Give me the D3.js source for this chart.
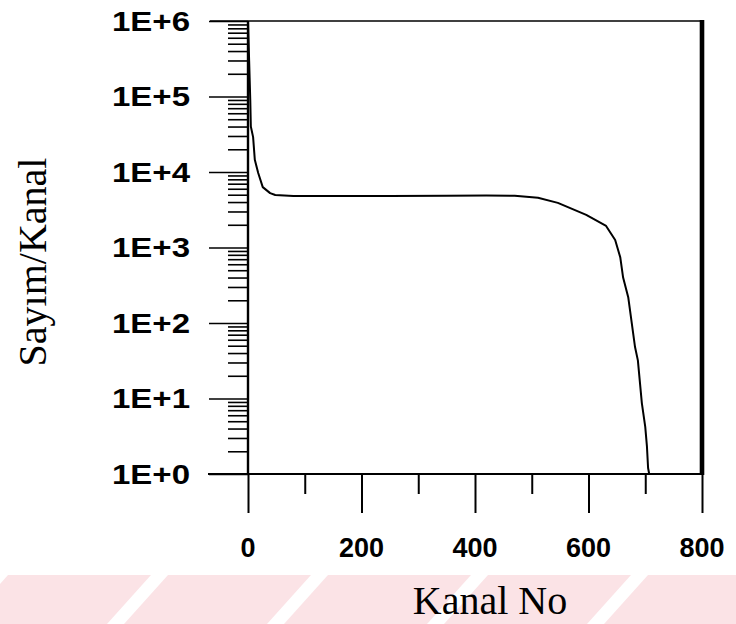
<!DOCTYPE html>
<html>
<head>
<meta charset="utf-8">
<script src="https://cdn.jsdelivr.net/npm/d3@7"></script>
<style>
  html, body { margin: 0; padding: 0; background: #ffffff; }
  svg { display: block; }
</style>
</head>
<body>
<svg id="chart" width="736" height="624"></svg>
<script>
// Channel number (Kanal No) and counts per channel (Sayım/Kanal)
const channels = [0, 2, 4, 5, 9, 12, 18, 26, 39, 48, 80, 150, 250, 350, 420, 470,
                  511, 546, 596, 631, 647, 656, 661, 670, 682, 687, 694, 700, 703, 705, 707];
const counts   = [1e6, 3e5, 9e4, 4e4, 2.9e4, 1.45e4, 9700, 6300, 5250, 4950, 4800, 4800, 4800, 4850, 4900, 4850,
                  4550, 3900, 2700, 1930, 1260, 740, 400, 220, 48, 32, 8.7, 4.2, 2.3, 1.2, 1];

const xMajorTicks = [0, 200, 400, 600, 800];
const xMinorTicks = [100, 300, 500, 700];
const yMajorTicks = [1, 10, 100, 1000, 10000, 100000, 1000000];
const yTickLabels = ["1E+0", "1E+1", "1E+2", "1E+3", "1E+4", "1E+5", "1E+6"];
const xTitle = "Kanal No";
const yTitle = "Sayım/Kanal";

const svg = d3.select("#chart");

const plot = { left: 248, right: 702, top: 21, bottom: 474 };

const x = d3.scaleLinear().domain([0, 800]).range([plot.left, plot.right]);
const y = d3.scaleLog().domain([1, 1e6]).range([plot.bottom, plot.top]);

// faint diagonal bands along the bottom of the page
const bandTop = 575, bandBottom = 624, slant = 44, period = 160, gap = 17;
const bands = d3.range(-2, 6).map(k => {
  const x0 = -9 + k * period + gap, x1 = -9 + (k + 1) * period;
  return [[x0, bandTop], [x1, bandTop], [x1 - slant, bandBottom], [x0 - slant, bandBottom]];
});
svg.append("g").selectAll("path").data(bands).join("path")
  .attr("d", d => "M" + d.join("L") + "Z")
  .attr("fill", "#fbe3e6");

// y axis: log scale, ticks pointing left
const minorY = [];
for (let e = 0; e < 6; e++) for (let m = 2; m <= 9; m++) minorY.push(m * Math.pow(10, e));

const yAxisMinor = d3.axisLeft(y).tickValues(minorY).tickSize(20).tickFormat("");
const yAxisMajor = d3.axisLeft(y).tickValues(yMajorTicks).tickSize(39).tickFormat("");

const gyMinor = svg.append("g").attr("transform", `translate(${plot.left},0)`).call(yAxisMinor);
const gyMajor = svg.append("g").attr("transform", `translate(${plot.left},0)`).call(yAxisMajor);
[gyMinor, gyMajor].forEach(g => {
  g.select(".domain").remove();
  g.selectAll("line").attr("stroke", "#000").attr("stroke-width", 1.6);
});

// wide bold exponent labels
svg.append("g").selectAll("text").data(yMajorTicks).join("text")
  .attr("x", 112)
  .attr("y", d => y(d) + 9.5)
  .attr("text-anchor", "start")
  .attr("font-family", "'Liberation Sans', Arial, sans-serif")
  .attr("font-weight", "bold")
  .attr("font-size", 27)
  .attr("textLength", 78)
  .attr("lengthAdjust", "spacingAndGlyphs")
  .attr("fill", "#000")
  .text((d, i) => yTickLabels[i]);

// x axis: ticks pointing down
const xAxisMinor = d3.axisBottom(x).tickValues(xMinorTicks).tickSize(20).tickFormat("");
const xAxisMajor = d3.axisBottom(x).tickValues(xMajorTicks).tickSize(39).tickFormat("");
const gxMinor = svg.append("g").attr("transform", `translate(0,${plot.bottom})`).call(xAxisMinor);
const gxMajor = svg.append("g").attr("transform", `translate(0,${plot.bottom})`).call(xAxisMajor);
[gxMinor, gxMajor].forEach(g => {
  g.select(".domain").remove();
  g.selectAll("line").attr("stroke", "#000").attr("stroke-width", 2);
});

svg.append("g").selectAll("text").data(xMajorTicks).join("text")
  .attr("x", d => x(d))
  .attr("y", 557)
  .attr("text-anchor", "middle")
  .attr("font-family", "'Liberation Sans', Arial, sans-serif")
  .attr("font-weight", "bold")
  .attr("font-size", 27)
  .attr("fill", "#000")
  .text(d => d);

// frame: bottom axis, left axis, top edge and heavy right edge
svg.append("line").attr("x1", 208).attr("x2", plot.right)
  .attr("y1", plot.bottom).attr("y2", plot.bottom)
  .attr("stroke", "#000").attr("stroke-width", 1.8);
svg.append("line").attr("x1", plot.left).attr("x2", plot.left)
  .attr("y1", plot.top).attr("y2", plot.bottom)
  .attr("stroke", "#000").attr("stroke-width", 2.4);
svg.append("line").attr("x1", 210).attr("x2", plot.right)
  .attr("y1", plot.top).attr("y2", plot.top)
  .attr("stroke", "#000").attr("stroke-width", 1.4);
svg.append("line").attr("x1", plot.right).attr("x2", plot.right)
  .attr("y1", plot.top - 1).attr("y2", plot.bottom + 1)
  .attr("stroke", "#000").attr("stroke-width", 4.6);

// spectrum curve
const line = d3.line()
  .x(d => x(d[0]))
  .y(d => y(d[1]));
svg.append("path")
  .datum(channels.map((c, i) => [c, counts[i]]))
  .attr("d", line)
  .attr("fill", "none")
  .attr("stroke", "#000")
  .attr("stroke-width", 2)
  .attr("stroke-linejoin", "round");

// axis titles
svg.append("text")
  .attr("x", 490).attr("y", 614)
  .attr("text-anchor", "middle")
  .attr("font-family", "'Liberation Serif', 'Times New Roman', serif")
  .attr("font-size", 40)
  .attr("fill", "#000")
  .text(xTitle);

svg.append("text")
  .attr("transform", "translate(46,262) rotate(-90)")
  .attr("text-anchor", "middle")
  .attr("font-family", "'Liberation Serif', 'Times New Roman', serif")
  .attr("font-size", 40)
  .attr("fill", "#000")
  .text(yTitle);
</script>
</body>
</html>
